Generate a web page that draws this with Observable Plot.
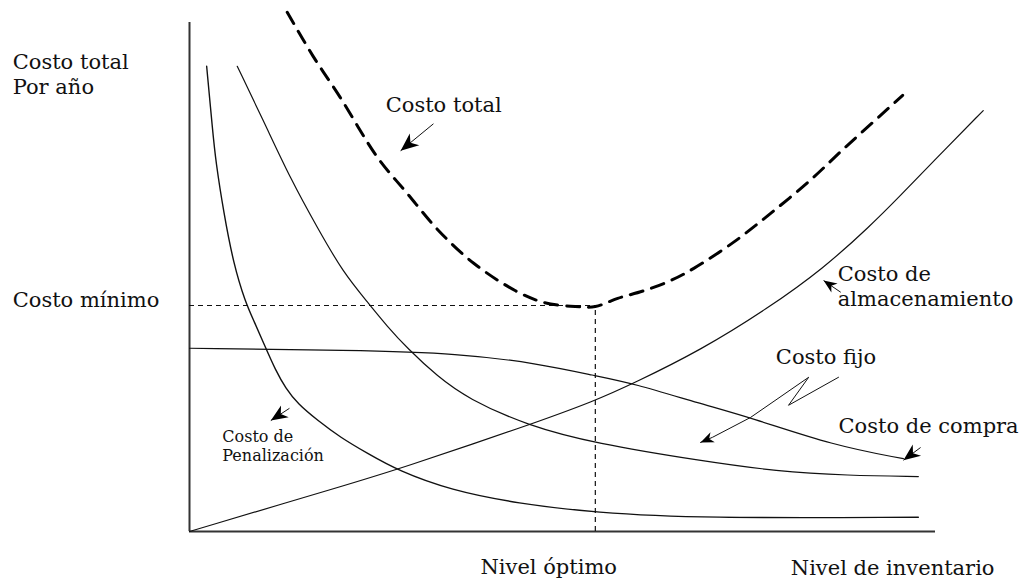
<!DOCTYPE html>
<html>
<head>
<meta charset="utf-8">
<script src="https://cdn.jsdelivr.net/npm/d3@7"></script>
<script src="https://cdn.jsdelivr.net/npm/@observablehq/plot@0.6"></script>
<style>
  html, body { margin: 0; padding: 0; background: #fff; overflow: hidden; }
  svg { display: block; }
</style>
</head>
<body>
<div id="chart"></div>
<script>
// ---- Data (units: inventory level 0–100, cost 0–100) ----
const totalX = [13.1, 16.6, 20.2, 25.2, 29.2, 33.4, 38.1, 43.7, 47.5, 51.7, 54.4, 57.4, 60.9, 64.5, 67.6, 72.9, 77.9, 83.2, 87.7, 92.6, 95.6];
const totalY = [102.0, 93.3, 85.3, 73.5, 66.4, 59.1, 52.7, 47.3, 45.0, 44.2, 44.2, 45.8, 47.3, 49.3, 51.7, 56.8, 62.5, 69.0, 75.2, 81.7, 85.7];

const almacenX = [0, 21.6, 27.9, 45.3, 54.4, 59.5, 68.5, 77.5, 85.0, 91.3, 95.3, 99.7, 106.4];
const almacenY = [0, 9.4, 12.2, 20.8, 25.7, 29.1, 35.6, 43.8, 51.7, 60.1, 66.0, 72.7, 82.7];

const compraX = [0, 21.6, 36.3, 46.6, 54.4, 59.5, 68.5, 75.2, 86.3, 95.7];
const compraY = [36.0, 35.6, 35.0, 33.0, 30.6, 29.1, 25.1, 22.4, 16.9, 14.3];

const fijoX = [6.4, 10.2, 13.5, 17.2, 20.6, 23.9, 26.5, 29.2, 33.2, 37.3, 45.3, 54.4, 68.5, 78.8, 88.2, 97.7];
const fijoY = [91.4, 79.8, 69.4, 59.5, 50.9, 45.0, 40.3, 36.0, 30.5, 26.1, 20.8, 17.3, 13.9, 11.8, 11.0, 10.8];

const penalX = [2.3, 3.1, 3.5, 4.6, 5.9, 7.5, 8.6, 10.2, 11.5, 12.9, 14.5, 17.2, 20.2, 23.9, 27.9, 35.0, 44.0, 54.4, 68.5, 97.7];
const penalY = [91.4, 78.8, 72.9, 62.5, 52.6, 45.0, 41.5, 36.1, 31.8, 28.1, 25.1, 21.8, 18.5, 15.3, 12.0, 8.1, 5.5, 3.7, 2.6, 2.8];

// optimum (minimum total cost)
const optimoX = [54.4];
const minimoY = [44.4];

// labels
const labelText = ["Costo total\nPor año", "Costo mínimo", "Costo total", "Costo de\nalmacenamiento", "Costo fijo", "Costo de compra", "Costo de\nPenalización", "Nivel óptimo", "Nivel de inventario"];
const labelX    = [-23.7, -23.7, 26.3, 86.9, 78.6, 87.0, 4.4, 39.0, 80.6];
const labelY    = [85.9, 44.2, 82.5, 44.4, 33.0, 19.3, 13.9, -8.4, -8.6];
const labelSize = [21, 21, 21, 21, 21, 21, 16, 21, 21];

// straight arrows: tail -> tip
const arrowX1 = [32.7, 87.3, 98.0, 13.4];
const arrowY1 = [80.1, 47.0, 16.5, 24.2];
const arrowX2 = [28.3, 85.0, 95.7, 10.9];
const arrowY2 = [74.8, 49.3, 14.0, 21.8];
const arrowR  = [7.5, 5.5, 7, 7];

// zigzag arrow to "Costo fijo"
const zigX = [87.0, 80.3, 83.0, 75.2, 70.1, 68.5];
const zigY = [30.3, 24.8, 30.3, 22.4, 18.5, 17.5];

// ---- Build tables ----
const toPts = (xs, ys) => xs.map((x, i) => ({x, y: ys[i]}));
const total = toPts(totalX, totalY);
const almacen = toPts(almacenX, almacenY);
const compra = toPts(compraX, compraY);
const fijo = toPts(fijoX, fijoY);
const penal = toPts(penalX, penalY);
const zig = toPts(zigX, zigY);
const labels = labelText.map((t, i) => ({t, x: labelX[i], y: labelY[i], s: labelSize[i]}));

const W = 1023, H = 580, mL = 189, mR = 88, mT = 22, mB = 49;
const kx = (W - mL - mR) / 100, ky = (H - mT - mB) / 100;
const ang = (x1, y1, x2, y2) => Math.atan2(-(y2 - y1) * ky, (x2 - x1) * kx) * 180 / Math.PI;

const arrows = arrowX1.map((x1, i) => ({x1, y1: arrowY1[i], x2: arrowX2[i], y2: arrowY2[i], r: arrowR[i],
  a: ang(x1, arrowY1[i], arrowX2[i], arrowY2[i])}));
const n = zig.length;
const heads = arrows.map(d => ({x: d.x2, y: d.y2, a: d.a, r: d.r}))
  .concat([{x: zig[n-1].x, y: zig[n-1].y, a: ang(zig[n-2].x, zig[n-2].y, zig[n-1].x, zig[n-1].y), r: 5.5}]);

// filled arrowhead pointing to +x with the tip at the origin
const headSymbol = {
  draw(ctx, size) {
    const r = Math.sqrt(size / Math.PI);
    ctx.moveTo(0, 0);
    ctx.lineTo(-2.4 * r, -r);
    ctx.lineTo(-1.7 * r, 0);
    ctx.lineTo(-2.4 * r, r);
    ctx.closePath();
  }
};

const ink = "#111";
const chart = Plot.plot({
  width: W, height: H,
  marginLeft: mL, marginRight: mR, marginTop: mT, marginBottom: mB,
  x: {domain: [0, 100], axis: null},
  y: {domain: [0, 100], axis: null},
  r: {type: "identity"},
  style: {fontFamily: "'DejaVu Serif', 'Liberation Serif', serif", background: "#fff"},
  marks: [
    // axes
    Plot.ruleX([0], {y1: 0, y2: 100, stroke: "#333", strokeWidth: 2}),
    Plot.ruleY([0], {x1: 0, x2: 100, stroke: "#333", strokeWidth: 2}),
    // optimum guides
    Plot.ruleY(minimoY, {x1: 0, x2: optimoX[0], stroke: ink, strokeWidth: 1.2, strokeDasharray: "5,4"}),
    Plot.ruleX(optimoX, {y1: 0, y2: minimoY[0], stroke: ink, strokeWidth: 1.2, strokeDasharray: "5,4"}),
    // cost curves
    Plot.line(almacen, {x: "x", y: "y", curve: "basis", stroke: ink, strokeWidth: 1.2}),
    Plot.line(compra, {x: "x", y: "y", curve: "basis", stroke: ink, strokeWidth: 1.2}),
    Plot.line(fijo, {x: "x", y: "y", curve: "basis", stroke: ink, strokeWidth: 1.2}),
    Plot.line(penal, {x: "x", y: "y", curve: "basis", stroke: ink, strokeWidth: 1.4}),
    Plot.line(total, {x: "x", y: "y", curve: "catmull-rom", stroke: "#000", strokeWidth: 3, strokeDasharray: "13,9"}),
    // annotation arrows
    Plot.link(arrows, {x1: "x1", y1: "y1", x2: "x2", y2: "y2", stroke: ink, strokeWidth: 1}),
    Plot.line(zig, {x: "x", y: "y", stroke: ink, strokeWidth: 1}),
    Plot.dot(heads, {x: "x", y: "y", r: "r", rotate: "a", symbol: headSymbol, fill: "#000", stroke: "none"}),
    // labels (per-label font size as a channel)
    Plot.text(labels, {x: "x", y: "y", text: "t", fontSize: "s", textAnchor: "start", lineAnchor: "bottom", lineHeight: 1.19, fill: ink})
  ]
});
document.getElementById("chart").append(chart);
</script>
</body>
</html>
